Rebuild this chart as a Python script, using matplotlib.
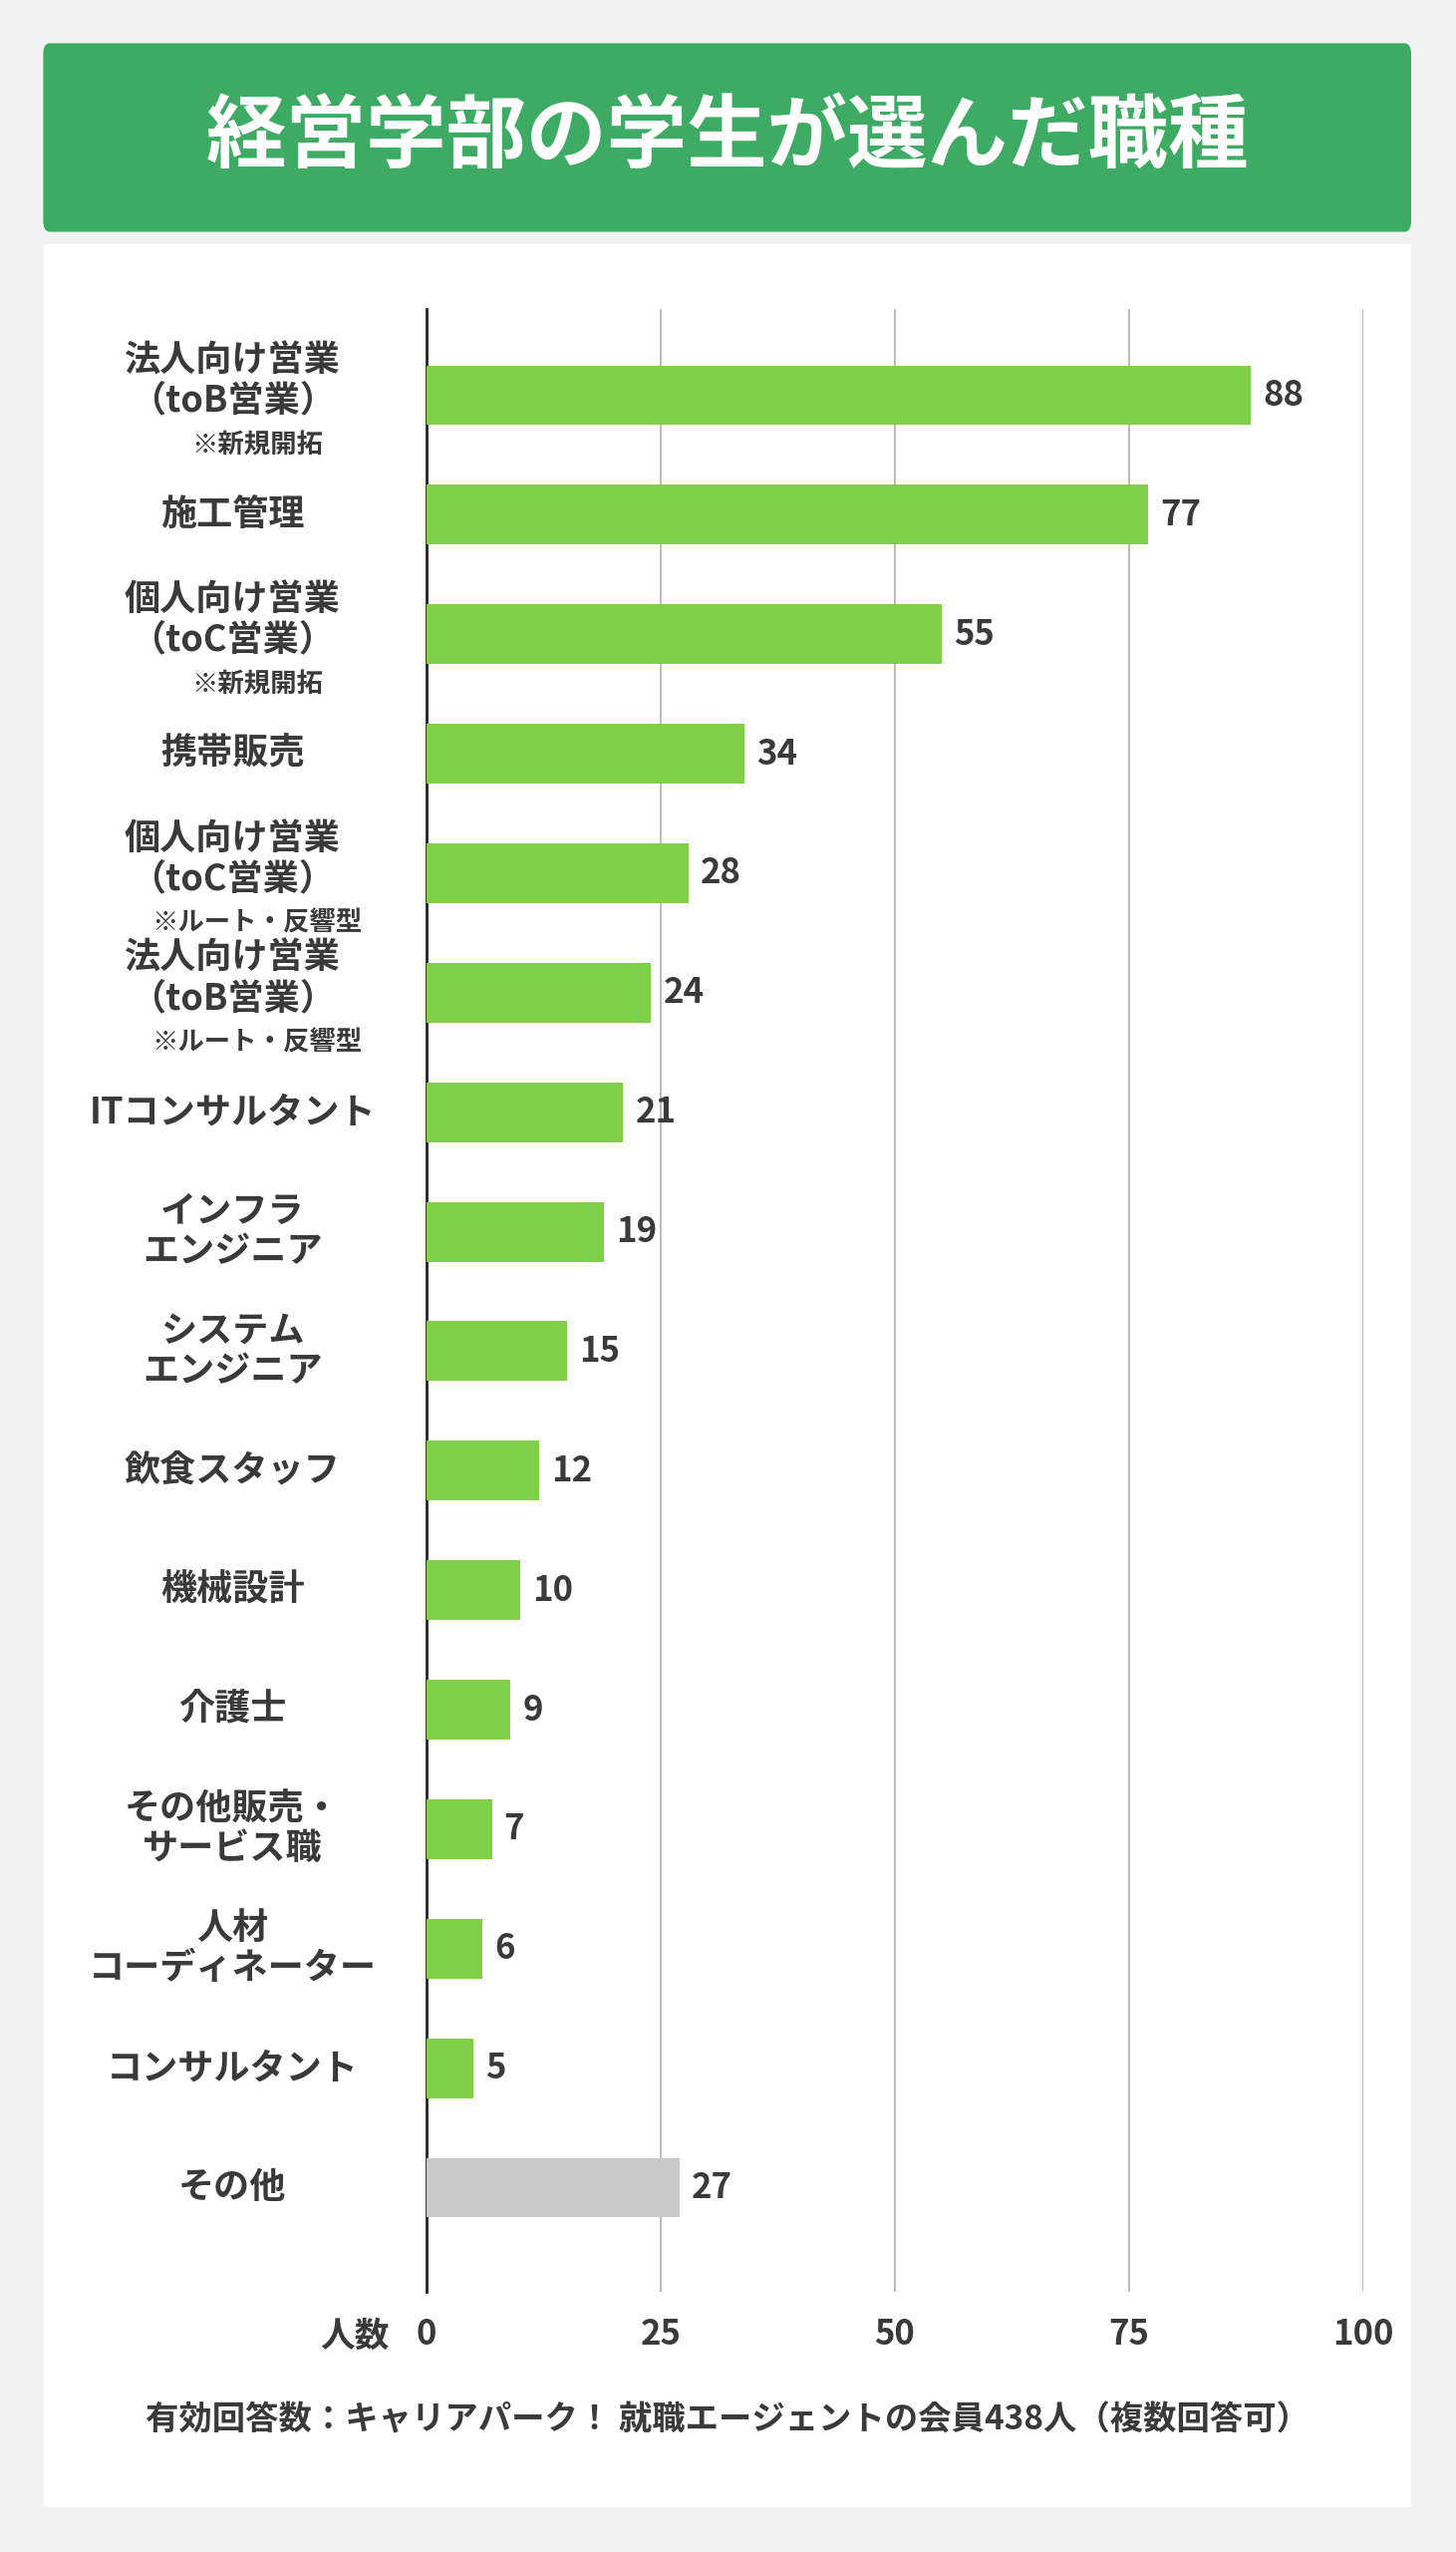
import matplotlib.pyplot as plt
from matplotlib.patches import FancyBboxPatch, Rectangle
from matplotlib.transforms import blended_transform_factory

plt.rcParams['font.family'] = ['Noto Sans CJK JP', 'DejaVu Sans']

# ── data ──────────────────────────────────────────────
main_labels = [
    "法人向け営業\n（toB営業）", "施工管理", "個人向け営業\n（toC営業）", "携帯販売",
    "個人向け営業\n（toC営業）", "法人向け営業\n（toB営業）", "ITコンサルタント",
    "インフラ\nエンジニア", "システム\nエンジニア", "飲食スタッフ", "機械設計", "介護士",
    "その他販売・\nサービス職", "人材\nコーディネーター", "コンサルタント", "その他",
]
sub_labels = ["※新規開拓", "", "※新規開拓", "", "※ルート・反響型", "※ルート・反響型",
              "", "", "", "", "", "", "", "", "", ""]
values = [88, 77, 55, 34, 28, 24, 21, 19, 15, 12, 10, 9, 7, 6, 5, 27]
xticks = [0, 25, 50, 75, 100]

GREEN = "#7fcf48"
GRAY = "#c9c9c9"
TEXT = "#3a3a3a"

fig = plt.figure(figsize=(14.61, 25.6), dpi=100)
fig.patch.set_facecolor("#f2f2f2")

# header and white panel
fig.patches.append(Rectangle((27/895, 1-1540/1568), 840/895, (1540-150)/1568,
                             transform=fig.transFigure, color="white", zorder=-2))
fig.patches.append(FancyBboxPatch((27/895, 1-142/1568), 840/895, 115/1568,
                                  boxstyle="round,pad=0,rounding_size=0.004",
                                  transform=fig.transFigure, color="#3dab63", zorder=-2))
fig.text(447/895, 1-85/1568, "経営学部の学生が選んだ職種", ha="center", va="center",
         fontsize=58, fontweight="bold", color="white")

ax = fig.add_axes([262/895, 1-1408/1568, (838-262)/895, (1408-190)/1568])
ax.set_zorder(2)
ax.set_facecolor("none")
ypos = list(range(len(values)))
colors = [GREEN] * (len(values) - 1) + [GRAY]
ax.barh(ypos, values, height=0.5, color=colors, zorder=3)
ax.set_ylim(len(values) - 1 + 0.87, -0.72)
ax.set_xlim(0, 100)
ax.set_xticks(xticks)
ax.set_xticklabels([str(t) for t in xticks], fontsize=25, fontweight="bold", color=TEXT)
ax.tick_params(axis="x", length=0, pad=18)
ax.set_yticks([])
ax.grid(axis="x", color="#bdbdbd", linewidth=1.5, zorder=0)
for s in ["top", "right", "bottom"]:
    ax.spines[s].set_visible(False)
ax.spines["left"].set_color("#222222")
ax.spines["left"].set_linewidth(2)

for y, v in zip(ypos, values):
    ax.text(v + 1.3, y, str(v), va="center", ha="left", fontsize=25,
            fontweight="bold", color=TEXT)

tr = blended_transform_factory(fig.transFigure, ax.transData)
for y, (m, s) in enumerate(zip(main_labels, sub_labels)):
    if s:
        ax.text(143/895, y - 0.12, m, transform=tr, ha="center", va="center",
                fontsize=26, fontweight="bold", color=TEXT, linespacing=1.1)
        ax.text(158/895, y + 0.42, s, transform=tr, ha="center", va="center",
                fontsize=19, fontweight="bold", color=TEXT)
    else:
        ax.text(143/895, y, m, transform=tr, ha="center", va="center",
                fontsize=26, fontweight="bold", color=TEXT, linespacing=1.1)

fig.text(218/895, 1-1435/1568, "人数", ha="center", va="center",
         fontsize=25, fontweight="bold", color=TEXT)
fig.text(447/895, 1-1487/1568, "有効回答数：キャリアパーク！ 就職エージェントの会員438人（複数回答可）",
         ha="center", va="center", fontsize=24, fontweight="bold", color=TEXT)

fig.savefig("out.png", dpi=100, facecolor=fig.get_facecolor())
